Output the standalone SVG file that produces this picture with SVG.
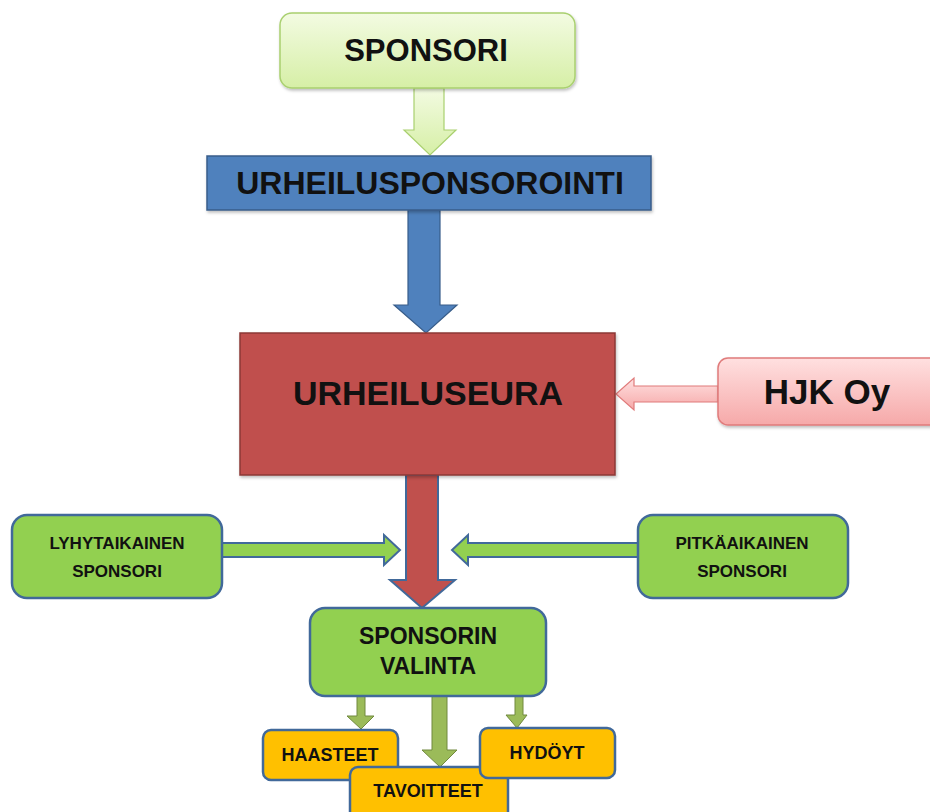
<svg xmlns="http://www.w3.org/2000/svg" width="930" height="812" viewBox="0 0 930 812">
<defs>
<linearGradient id="gLight" x1="0" y1="0" x2="0" y2="1"><stop offset="0" stop-color="#f3fbe2"/><stop offset="1" stop-color="#d6efa6"/></linearGradient>
<linearGradient id="gPink" x1="0" y1="0" x2="0" y2="1"><stop offset="0" stop-color="#ffe0e0"/><stop offset="1" stop-color="#f6a9a9"/></linearGradient>
<filter id="sh" x="-10%" y="-10%" width="130%" height="140%"><feDropShadow dx="1" dy="2" stdDeviation="1.5" flood-color="#000" flood-opacity="0.25"/></filter>
</defs>
<style>
text{font-family:"Liberation Sans",Arial,sans-serif;font-weight:bold;fill:#111;text-anchor:middle}
.green{fill:#92d050;stroke:#41699a;stroke-width:2.5}
.orange{fill:#ffc000;stroke:#41699a;stroke-width:2.5}
.olive{fill:#9bbb59;stroke:#71893f;stroke-width:1}
.s17{font-size:17px}
.s18{font-size:18px}
</style>
<rect width="930" height="812" fill="#fff"/>
<g id="connectors">
<path d="M414,88 H444 V130 H456 L430,155 L404,130 H414 Z" fill="url(#gLight)" stroke="#a9d06f" stroke-width="1.2"/>
<path d="M408,210 H440 V305 H457 L426,333 L394,305 H408 Z" fill="#4f81bd" stroke="#385d8a" stroke-width="1.2"/>
<path d="M718,386 H634 V378 L616,394 L634,410 V402 H718 Z" fill="url(#gPink)" stroke="#e07b7b" stroke-width="1.2"/>
<path d="M406,475 H438 V580 H455 L422,608 L390,580 H406 Z" fill="#c0504d" stroke="#41699a" stroke-width="2"/>
<path d="M222,543 H384 V535 L400,550 L384,565 V557 H222 Z" fill="#92d050" stroke="#41699a" stroke-width="2"/>
<path d="M638,543 H468 V535 L452,550 L468,565 V557 H638 Z" fill="#92d050" stroke="#41699a" stroke-width="2"/>
<path d="M357,696 H365 V716 H374 L361,729 L347,716 H357 Z" class="olive"/>
<path d="M432,696 H447 V750 H457 L440,767 L422,750 H432 Z" class="olive"/>
<path d="M515,696 H523 V715 H527 L517,728 L506,715 H515 Z" class="olive"/>
</g>
<g id="sponsori"><rect x="280" y="13" width="295" height="75" rx="12" fill="url(#gLight)" stroke="#a9d06f" stroke-width="1.5" filter="url(#sh)"/><text x="426" y="61" font-size="31">SPONSORI</text></g>
<g id="urheilusponsorointi"><rect x="207" y="156" width="444" height="54" fill="#4f81bd" stroke="#385d8a" stroke-width="1.5" filter="url(#sh)"/><text x="430" y="194" font-size="32">URHEILUSPONSOROINTI</text></g>
<g id="urheiluseura"><rect x="240" y="333" width="375" height="142" fill="#c0504d" stroke="#8c3836" stroke-width="1.5" filter="url(#sh)"/><text x="428" y="405" font-size="34">URHEILUSEURA</text></g>
<g id="hjk"><rect x="718" y="358" width="230" height="67" rx="10" fill="url(#gPink)" stroke="#e07b7b" stroke-width="1.5" filter="url(#sh)"/><text x="827" y="404" font-size="35">HJK Oy</text></g>
<g id="lyhyt"><rect x="12" y="515" width="210" height="83" rx="15" class="green"/><text x="117" y="549" class="s17">LYHYTAIKAINEN</text><text x="117" y="577" class="s17">SPONSORI</text></g>
<g id="pitka"><rect x="638" y="515" width="210" height="83" rx="15" class="green"/><text x="742" y="549" class="s17">PITKÄAIKAINEN</text><text x="742" y="577" class="s17">SPONSORI</text></g>
<g id="valinta"><rect x="310" y="608" width="236" height="88" rx="15" class="green"/><text x="428" y="644" font-size="23">SPONSORIN</text><text x="428" y="674" font-size="23">VALINTA</text></g>
<g id="haasteet"><rect x="263" y="730" width="135" height="50" rx="8" class="orange"/><text x="330" y="761" class="s18">HAASTEET</text></g>
<g id="tavoitteet"><rect x="350" y="767" width="158" height="55" rx="8" class="orange"/><text x="428" y="797" class="s18">TAVOITTEET</text></g>
<g id="hydoyt"><rect x="480" y="728" width="135" height="50" rx="8" class="orange"/><text x="547" y="759" class="s18">HYDÖYT</text></g>
</svg>
